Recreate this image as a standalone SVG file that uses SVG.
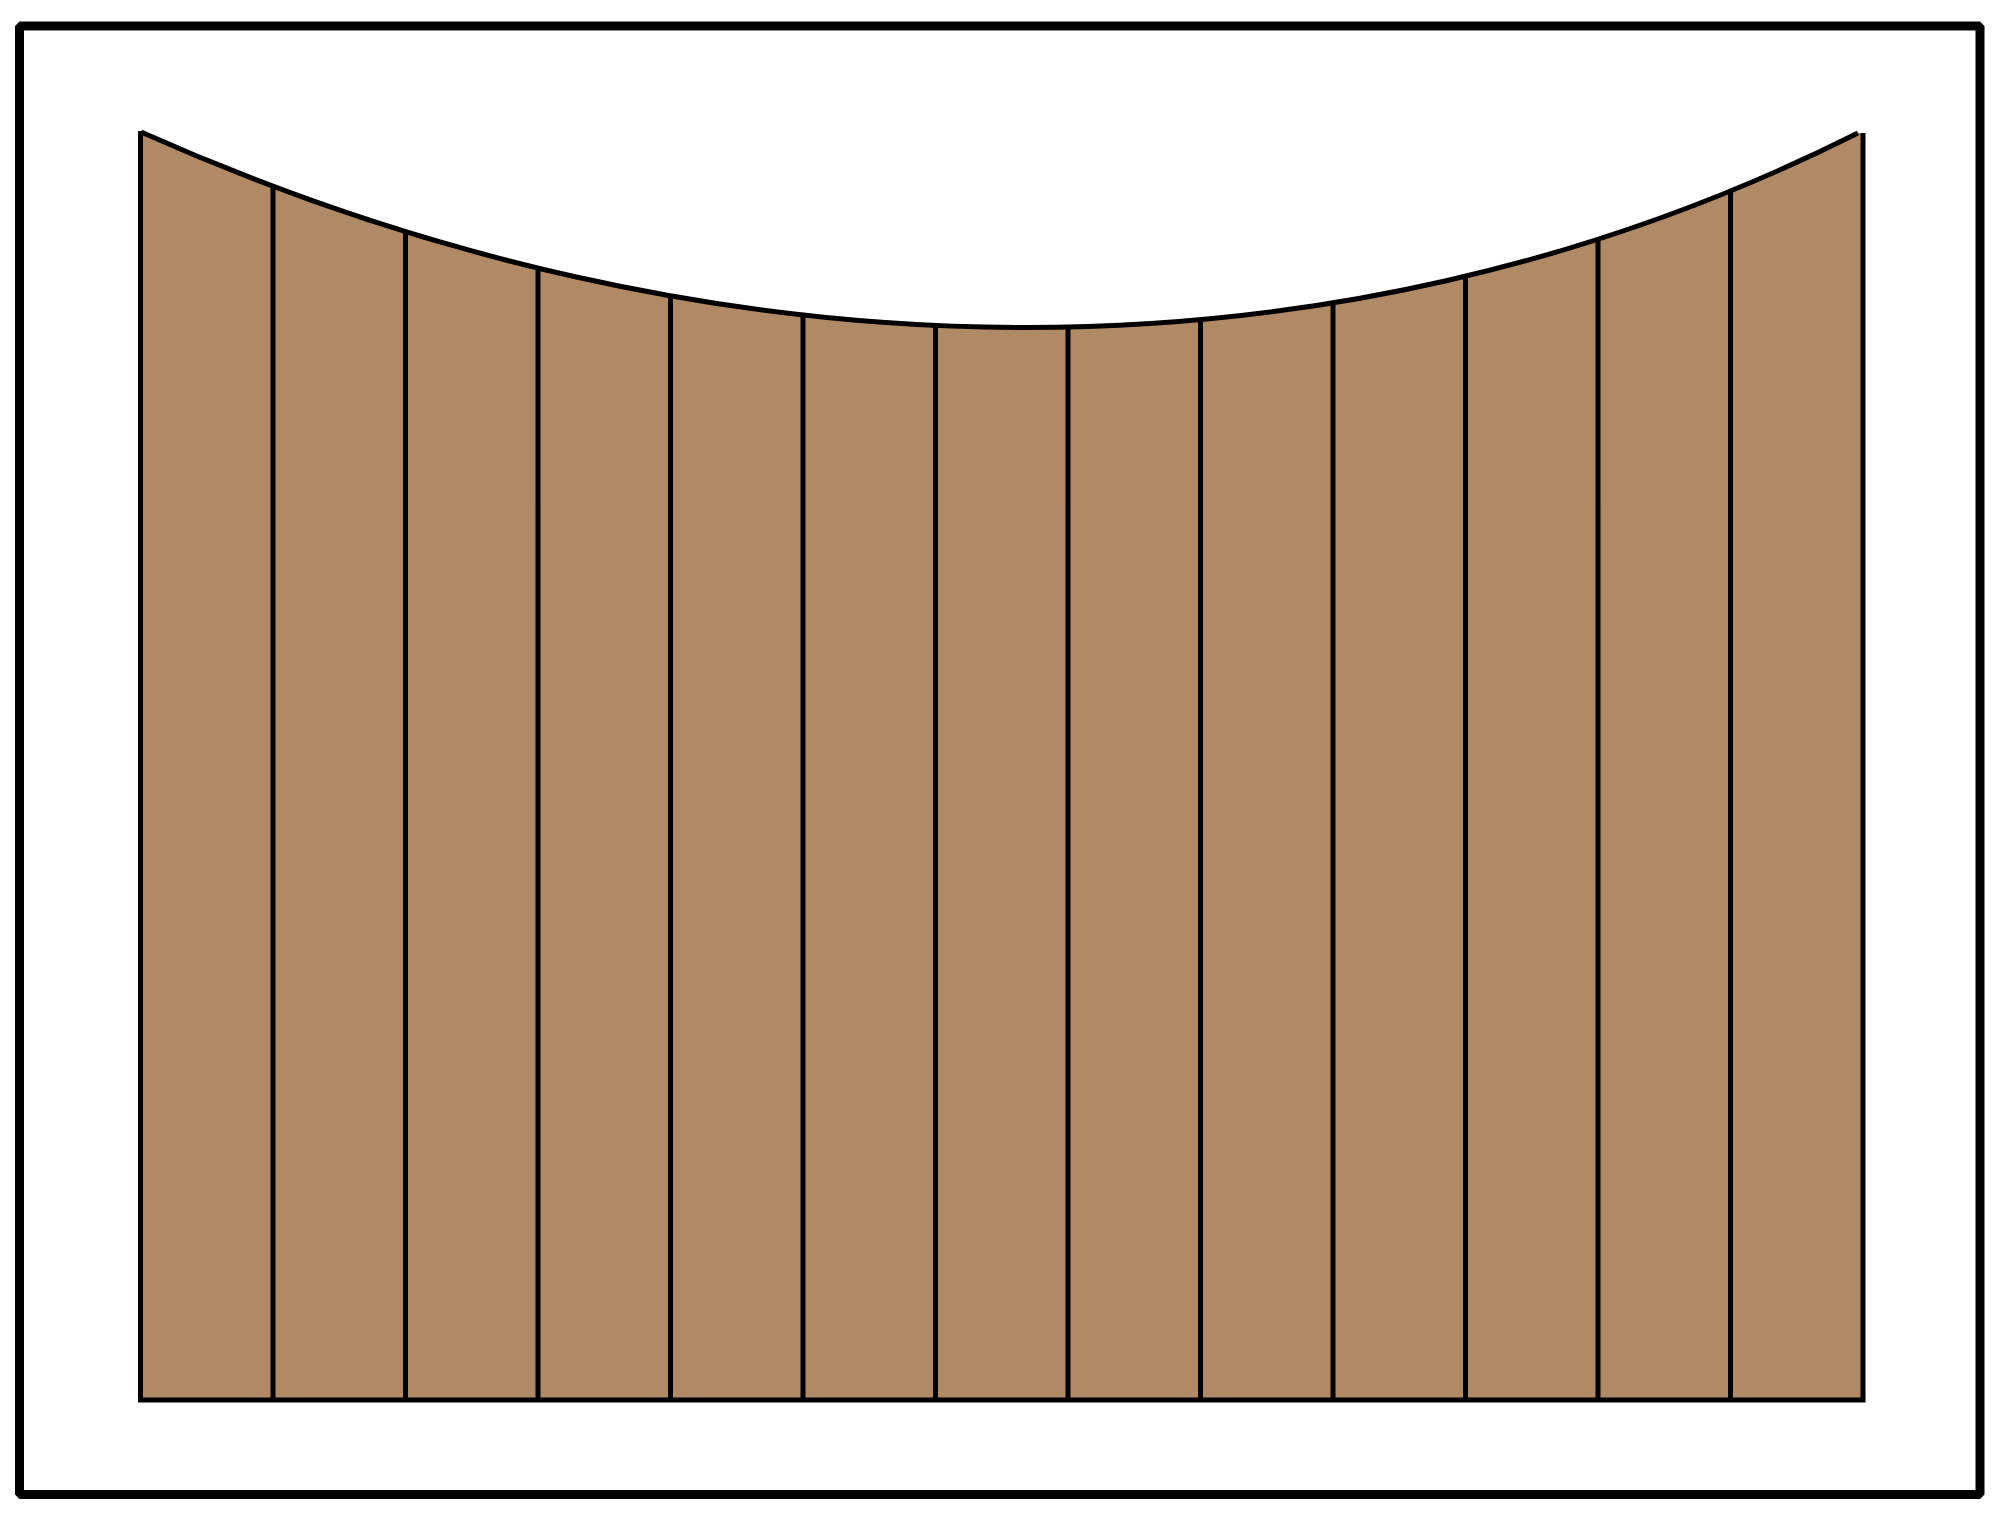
<svg xmlns="http://www.w3.org/2000/svg" width="2000" height="1519" viewBox="0 0 2000 1519">
  <style>
    .frame { fill: none; stroke: #000; stroke-width: 9; stroke-linejoin: bevel; }
    .board { fill: #B08965; stroke: none; }
    .edge { fill: none; stroke: #000; stroke-width: 5; stroke-linecap: butt; }
  </style>
  <defs>
    <clipPath id="fenceClip">
      <path d="M141,132 C713,387 1330,398 1858,133 L1863,133 L1863,1400 L141,1400 Z"/>
    </clipPath>
  </defs>
  <rect width="2000" height="1519" fill="#fff"/>
  <g id="frame">
    <rect class="frame" x="19.5" y="26" width="1960.5" height="1468.5"/>
  </g>
  <g id="fence">
    <path class="board" d="M141,132 C713,387 1330,398 1858,133 L1863,133 L1863,1400 L141,1400 Z"/>
    <g id="dividers" clip-path="url(#fenceClip)">
      <path class="edge" d="M273,100V1400 M405.5,100V1400 M538,100V1400 M670.5,100V1400 M803,100V1400 M935.5,100V1400 M1068,100V1400 M1200.5,100V1400 M1333,100V1400 M1465.5,100V1400 M1598,100V1400 M1730.5,100V1400"/>
    </g>
    <path class="edge" d="M141,132 C713,387 1330,398 1858,133"/>
    <path class="edge" d="M140.5,131V1402.5 M138,1400H1865.5 M1863,133V1402.5"/>
  </g>
</svg>
